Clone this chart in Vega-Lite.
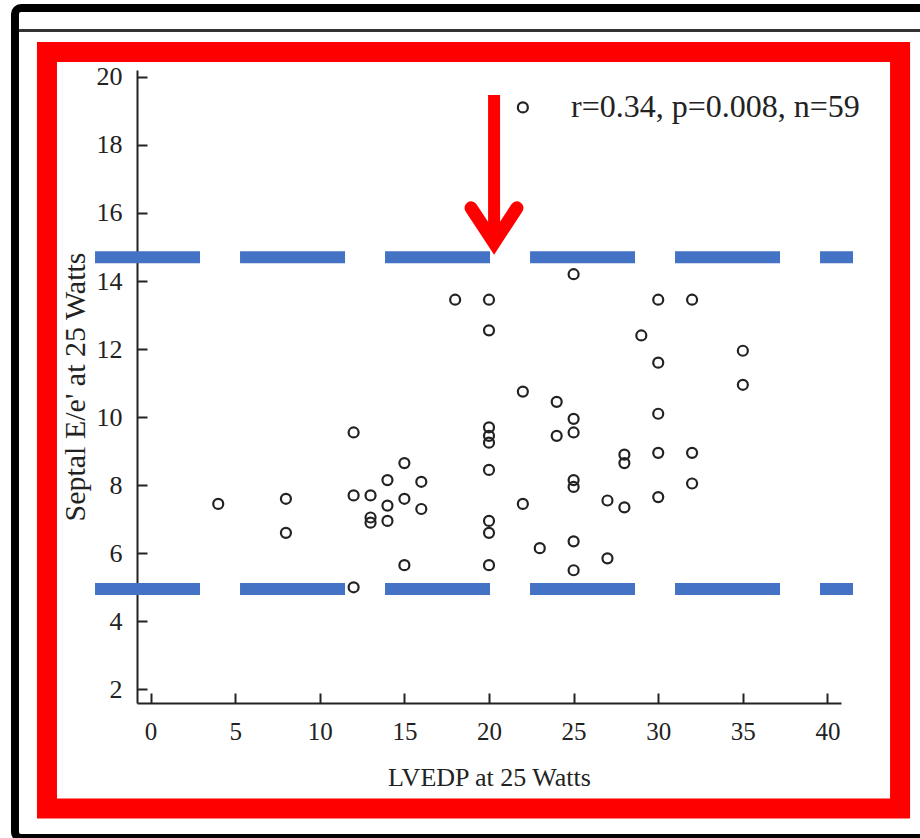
{
  "$schema": "https://vega.github.io/schema/vega-lite/v6.json",
  "width": 704,
  "height": 633,
  "autosize": "none",
  "padding": {"left": 137, "top": 70, "right": 79, "bottom": 135},
  "background": "white",
  "config": {"view": {"stroke": null}, "font": "Liberation Serif"},
  "datasets": {
    "points": [
      {"lvedp": 4, "ee": 7.45},
      {"lvedp": 8, "ee": 7.6},
      {"lvedp": 8, "ee": 6.6},
      {"lvedp": 12, "ee": 9.55},
      {"lvedp": 12, "ee": 7.7},
      {"lvedp": 12, "ee": 5.0},
      {"lvedp": 13, "ee": 7.7},
      {"lvedp": 13, "ee": 7.05},
      {"lvedp": 13, "ee": 6.9},
      {"lvedp": 14, "ee": 8.15},
      {"lvedp": 14, "ee": 7.4},
      {"lvedp": 14, "ee": 6.95},
      {"lvedp": 15, "ee": 8.65},
      {"lvedp": 15, "ee": 7.6},
      {"lvedp": 15, "ee": 5.65},
      {"lvedp": 16, "ee": 8.1},
      {"lvedp": 16, "ee": 7.3},
      {"lvedp": 18, "ee": 13.45},
      {"lvedp": 20, "ee": 13.45},
      {"lvedp": 20, "ee": 12.55},
      {"lvedp": 20, "ee": 9.7},
      {"lvedp": 20, "ee": 9.45},
      {"lvedp": 20, "ee": 9.25},
      {"lvedp": 20, "ee": 8.45},
      {"lvedp": 20, "ee": 6.95},
      {"lvedp": 20, "ee": 6.6},
      {"lvedp": 20, "ee": 5.65},
      {"lvedp": 22, "ee": 19.1},
      {"lvedp": 22, "ee": 10.75},
      {"lvedp": 22, "ee": 7.45},
      {"lvedp": 23, "ee": 6.15},
      {"lvedp": 24, "ee": 10.45},
      {"lvedp": 24, "ee": 9.45},
      {"lvedp": 25, "ee": 14.2},
      {"lvedp": 25, "ee": 9.95},
      {"lvedp": 25, "ee": 9.55},
      {"lvedp": 25, "ee": 8.15},
      {"lvedp": 25, "ee": 7.95},
      {"lvedp": 25, "ee": 6.35},
      {"lvedp": 25, "ee": 5.5},
      {"lvedp": 27, "ee": 7.55},
      {"lvedp": 27, "ee": 5.85},
      {"lvedp": 28, "ee": 8.9},
      {"lvedp": 28, "ee": 8.65},
      {"lvedp": 28, "ee": 7.35},
      {"lvedp": 29, "ee": 12.4},
      {"lvedp": 30, "ee": 13.45},
      {"lvedp": 30, "ee": 11.6},
      {"lvedp": 30, "ee": 10.1},
      {"lvedp": 30, "ee": 8.95},
      {"lvedp": 30, "ee": 7.65},
      {"lvedp": 32, "ee": 13.45},
      {"lvedp": 32, "ee": 8.95},
      {"lvedp": 32, "ee": 8.05},
      {"lvedp": 35, "ee": 11.95},
      {"lvedp": 35, "ee": 10.95}
    ],
    "cutoffs": [{"level": 14.7}, {"level": 4.95}],
    "chevron": [
      {"ax": 18.94, "ay": 16.15, "ord": 0},
      {"ax": 20.3, "ay": 15.12, "ord": 1},
      {"ax": 21.65, "ay": 16.15, "ord": 2}
    ],
    "one": [{}]
  },
  "layer": [
    {
      "data": {"name": "points"},
      "mark": {"type": "point", "shape": "circle", "filled": false, "stroke": "#222222", "strokeWidth": 2.2, "size": 100, "opacity": 1},
      "encoding": {
        "x": {
          "field": "lvedp", "type": "quantitative",
          "scale": {"domain": [-0.8, 40.8], "nice": false, "zero": false},
          "axis": {
            "values": [0, 5, 10, 15, 20, 25, 30, 35, 40],
            "title": "LVEDP at 25 Watts",
            "grid": false,
            "domainColor": "#222222", "domainWidth": 2,
            "tickColor": "#222222", "tickWidth": 2, "tickSize": -10,
            "labelPadding": 26, "labelFontSize": 25, "labelFont": "Liberation Serif", "labelColor": "#222222",
            "labelFlush": false, "labelOverlap": false,
            "titleFont": "Liberation Serif", "titleFontSize": 26, "titleFontWeight": "normal", "titleColor": "#222222",
            "titlePadding": 20
          }
        },
        "y": {
          "field": "ee", "type": "quantitative",
          "scale": {"domain": [1.6, 20.2], "nice": false, "zero": false},
          "axis": {
            "values": [2, 3, 4, 5, 6, 7, 8, 9, 10, 11, 12, 13, 14, 15, 16, 17, 18, 19, 20],
            "labelExpr": "datum.value % 2 ? '' : datum.label",
            "title": "Septal E/e' at 25 Watts",
            "grid": false,
            "domainColor": "#222222", "domainWidth": 2,
            "tickColor": "#222222", "tickWidth": 2,
            "tickSize": {"condition": {"test": "datum.value % 2 === 1", "value": -6}, "value": -10},
            "labelPadding": 25, "labelFontSize": 26, "labelFont": "Liberation Serif", "labelColor": "#222222",
            "labelFlush": false, "labelOverlap": false,
            "titleFont": "Liberation Serif", "titleFontSize": 30, "titleFontWeight": "normal", "titleColor": "#222222",
            "titlePadding": 6
          }
        }
      }
    },
    {
      "data": {"name": "one"},
      "mark": {"type": "rect", "filled": false, "stroke": "black", "strokeWidth": 8, "cornerRadius": 6, "clip": false},
      "encoding": {
        "x": {"datum": -8.01, "type": "quantitative"},
        "x2": {"datum": 46.06},
        "y": {"datum": 22.02, "type": "quantitative"},
        "y2": {"datum": -2.37}
      }
    },
    {
      "data": {"name": "one"},
      "mark": {"type": "rule", "stroke": "#333333", "strokeWidth": 3, "clip": false},
      "encoding": {
        "x": {"datum": -7.77, "type": "quantitative"},
        "x2": {"datum": 46.06},
        "y": {"datum": 21.36, "type": "quantitative"}
      }
    },
    {
      "data": {"name": "one"},
      "mark": {"type": "rect", "filled": false, "stroke": "#ff0000", "strokeWidth": 20, "clip": false},
      "encoding": {
        "x": {"datum": -6.12, "type": "quantitative"},
        "x2": {"datum": 44.29},
        "y": {"datum": 20.73, "type": "quantitative"},
        "y2": {"datum": -1.5}
      }
    },
    {
      "data": {"name": "cutoffs"},
      "mark": {"type": "rule", "stroke": "#4472C4", "strokeWidth": 12, "strokeDash": [105, 40], "strokeCap": "butt", "clip": false},
      "encoding": {
        "x": {"datum": -3.28, "type": "quantitative"},
        "x2": {"datum": 41.51},
        "y": {"field": "level", "type": "quantitative"}
      }
    },
    {
      "data": {"name": "one"},
      "mark": {"type": "text", "text": "r=0.34, p=0.008, n=59", "font": "Liberation Serif", "fontSize": 32, "align": "left", "baseline": "middle", "fill": "#222222", "clip": false},
      "encoding": {
        "x": {"datum": 24.85, "type": "quantitative"},
        "y": {"datum": 19.11, "type": "quantitative"}
      }
    },
    {
      "data": {"name": "one"},
      "mark": {"type": "rule", "stroke": "#ff0000", "strokeWidth": 12, "strokeCap": "butt", "clip": false},
      "encoding": {
        "x": {"datum": 20.3, "type": "quantitative"},
        "y": {"datum": 19.465, "type": "quantitative"},
        "y2": {"datum": 15.4}
      }
    },
    {
      "data": {"name": "chevron"},
      "mark": {"type": "line", "stroke": "#ff0000", "strokeWidth": 13, "strokeCap": "round", "strokeJoin": "miter", "clip": false},
      "encoding": {
        "x": {"field": "ax", "type": "quantitative"},
        "y": {"field": "ay", "type": "quantitative"},
        "order": {"field": "ord", "type": "quantitative"}
      }
    }
  ]
}
